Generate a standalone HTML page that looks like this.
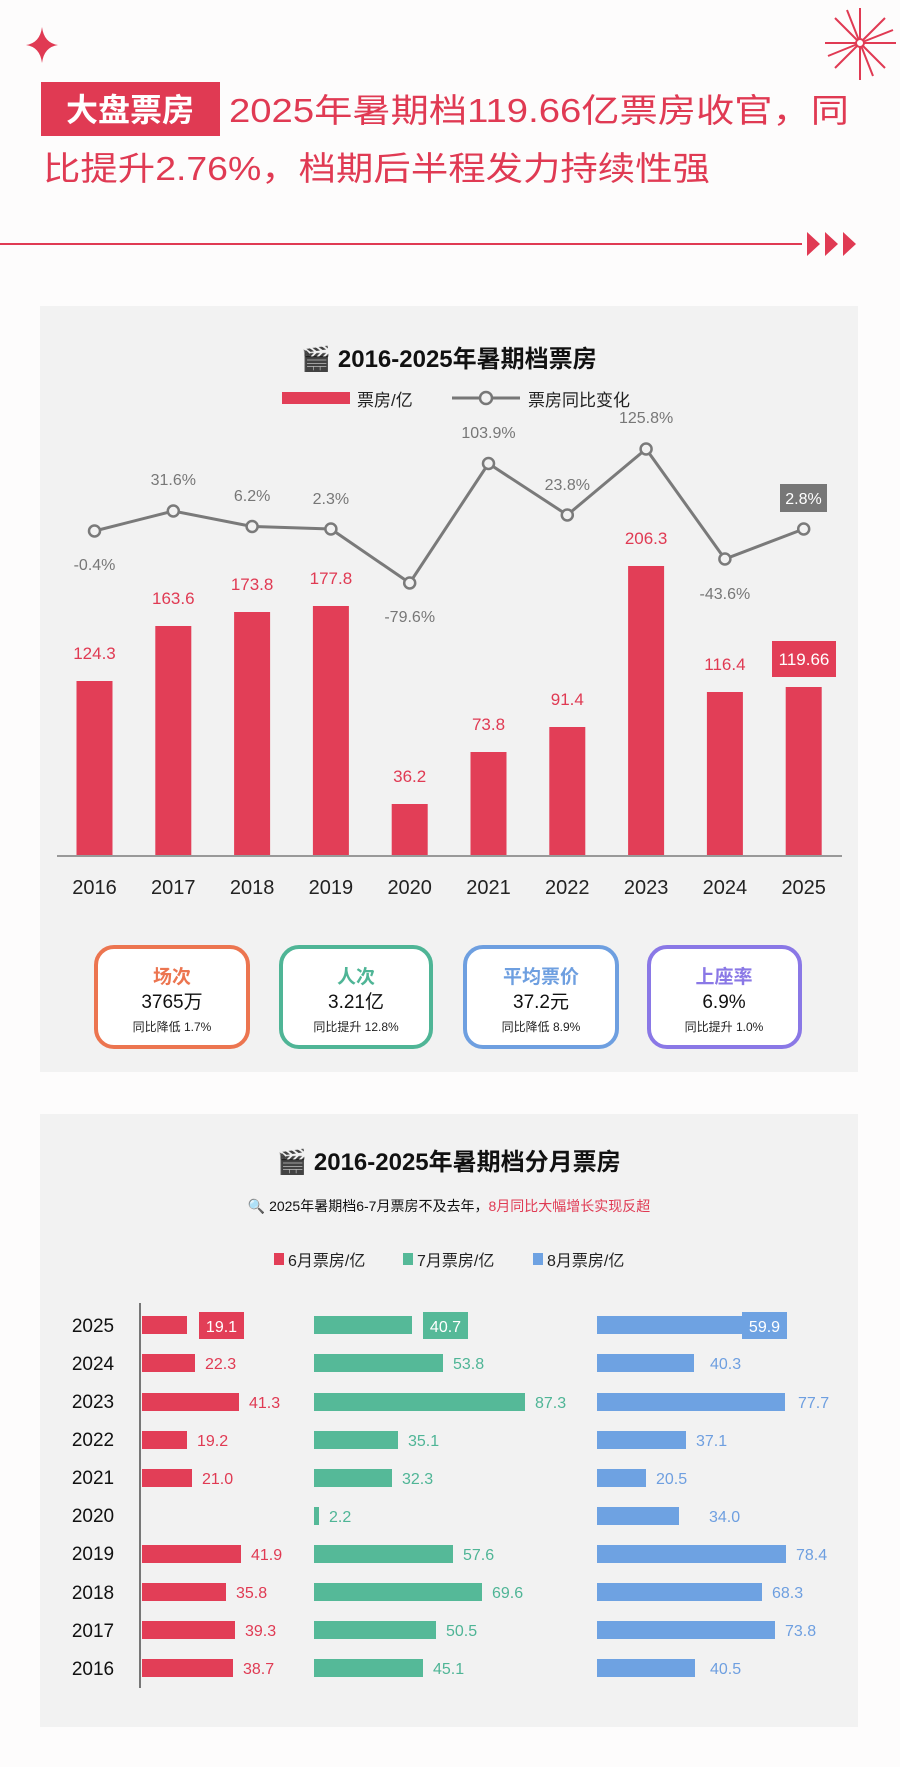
<!DOCTYPE html>
<html><head><meta charset="utf-8"><style>
html,body{margin:0;padding:0;background:#fff}
svg{display:block}
text{font-family:"Liberation Sans","Noto Sans CJK SC",sans-serif}
</style></head><body>
<svg width="900" height="1767" viewBox="0 0 900 1767" xmlns="http://www.w3.org/2000/svg">
<rect width="900" height="1767" fill="#fdfcfc"/>
<!-- star -->
<path d="M42 27 Q44 43 58 45 Q44 47 42 63 Q40 47 26 45 Q40 43 42 27Z" fill="#e03a53"/>
<!-- fireworks -->
<g stroke="#e03a53" stroke-width="2" fill="none">
<line x1="860" y1="43" x2="860" y2="8"/><line x1="860" y1="43" x2="860" y2="80"/>
<line x1="860" y1="43" x2="825" y2="43"/><line x1="860" y1="43" x2="896" y2="43"/>
<line x1="860" y1="43" x2="835" y2="18"/><line x1="860" y1="43" x2="885" y2="18"/>
<line x1="860" y1="43" x2="835" y2="68"/><line x1="860" y1="43" x2="885" y2="68"/>
<line x1="860" y1="43" x2="847" y2="10"/><line x1="860" y1="43" x2="873" y2="76"/>
<line x1="860" y1="43" x2="828" y2="56"/><line x1="860" y1="43" x2="893" y2="30"/>
</g>
<circle cx="860" cy="43" r="4" fill="#fff" stroke="#e03a53" stroke-width="2"/>
<!-- header -->
<rect x="41" y="82" width="179" height="54" fill="#e03a53"/>
<text x="130" y="121" text-anchor="middle" font-size="32" fill="#fff" font-weight="bold">大盘票房</text>
<text x="229" y="122" font-size="33" fill="#e03a53" textLength="620" lengthAdjust="spacingAndGlyphs">2025年暑期档119.66亿票房收官，同</text>
<text x="43" y="180" font-size="33" fill="#e03a53" textLength="667" lengthAdjust="spacingAndGlyphs">比提升2.76%，档期后半程发力持续性强</text>
<line x1="0" y1="244" x2="802" y2="244" stroke="#e03a53" stroke-width="2"/>
<path d="M807 232 L820 244 L807 256Z M825 232 L838 244 L825 256Z M843 232 L856 244 L843 256Z" fill="#e03a53"/>

<!-- panel 1 -->
<rect x="40" y="306" width="818" height="766" fill="#f2f2f2"/>
<text x="449" y="367" text-anchor="middle" font-size="24" font-weight="bold" fill="#111">🎬 2016-2025年暑期档票房</text>
<rect x="282" y="392" width="68" height="12" fill="#e23e57"/>
<text x="357" y="406" font-size="17" fill="#222">票房/亿</text>
<line x1="452" y1="398" x2="520" y2="398" stroke="#777" stroke-width="3"/>
<circle cx="486" cy="398" r="6" fill="#f2f2f2" stroke="#777" stroke-width="2.5"/>
<text x="528" y="406" font-size="17" fill="#222">票房同比变化</text>

<line x1="57" y1="856" x2="842" y2="856" stroke="#999" stroke-width="2"/>
<g fill="#e23e57">
<rect x="76.5" y="681" width="36" height="174"/>
<rect x="155.3" y="626" width="36" height="229"/>
<rect x="234.1" y="612" width="36" height="243"/>
<rect x="312.9" y="606" width="36" height="249"/>
<rect x="391.7" y="804" width="36" height="51"/>
<rect x="470.5" y="752" width="36" height="103"/>
<rect x="549.3" y="727" width="36" height="128"/>
<rect x="628.1" y="566" width="36" height="289"/>
<rect x="706.9" y="692" width="36" height="163"/>
<rect x="785.7" y="687" width="36" height="168"/>
</g>
<g font-size="17" fill="#e03a53" text-anchor="middle">
<text x="94.5" y="659">124.3</text>
<text x="173.3" y="604">163.6</text>
<text x="252.1" y="590">173.8</text>
<text x="330.9" y="584">177.8</text>
<text x="409.7" y="782">36.2</text>
<text x="488.5" y="730">73.8</text>
<text x="567.3" y="705">91.4</text>
<text x="646.1" y="544">206.3</text>
<text x="724.9" y="670">116.4</text>
</g>
<rect x="772" y="641" width="64" height="36" fill="#e23e57"/>
<text x="804" y="665" text-anchor="middle" font-size="17" fill="#fff">119.66</text>

<polyline points="94.5,531 173.3,511 252.1,526.5 330.9,529 409.7,583 488.5,463.5 567.3,515 646.1,449 724.9,559 803.7,529" fill="none" stroke="#7a7a7a" stroke-width="3"/>
<g fill="#f2f2f2" stroke="#7a7a7a" stroke-width="2.5">
<circle cx="94.5" cy="531" r="5.5"/><circle cx="173.3" cy="511" r="5.5"/><circle cx="252.1" cy="526.5" r="5.5"/><circle cx="330.9" cy="529" r="5.5"/><circle cx="409.7" cy="583" r="5.5"/><circle cx="488.5" cy="463.5" r="5.5"/><circle cx="567.3" cy="515" r="5.5"/><circle cx="646.1" cy="449" r="5.5"/><circle cx="724.9" cy="559" r="5.5"/><circle cx="803.7" cy="529" r="5.5"/>
</g>
<g font-size="16" fill="#777" text-anchor="middle">
<text x="94.5" y="570">-0.4%</text>
<text x="173.3" y="485">31.6%</text>
<text x="252.1" y="501">6.2%</text>
<text x="330.9" y="504">2.3%</text>
<text x="409.7" y="622">-79.6%</text>
<text x="488.5" y="438">103.9%</text>
<text x="567.3" y="490">23.8%</text>
<text x="646.1" y="423">125.8%</text>
<text x="724.9" y="599">-43.6%</text>
</g>
<rect x="780" y="484" width="47" height="28" fill="#777"/>
<text x="803.5" y="504" text-anchor="middle" font-size="16" fill="#fff">2.8%</text>
<g font-size="20" fill="#222" text-anchor="middle">
<text x="94.5" y="894">2016</text><text x="173.3" y="894">2017</text><text x="252.1" y="894">2018</text><text x="330.9" y="894">2019</text><text x="409.7" y="894">2020</text><text x="488.5" y="894">2021</text><text x="567.3" y="894">2022</text><text x="646.1" y="894">2023</text><text x="724.9" y="894">2024</text><text x="803.7" y="894">2025</text>
</g>

<!-- KPI -->
<g fill="#fff" stroke-width="4">
<rect x="96" y="947" width="152" height="100" rx="18" stroke="#ec7550"/>
<rect x="281" y="947" width="150" height="100" rx="18" stroke="#4fb596"/>
<rect x="465" y="947" width="152" height="100" rx="18" stroke="#6e9fe0"/>
<rect x="649" y="947" width="151" height="100" rx="18" stroke="#8a78e6"/>
</g>
<g text-anchor="middle">
<text x="172" y="983" font-size="19" font-weight="bold" fill="#ec7550">场次</text>
<text x="172" y="1008" font-size="19" fill="#111">3765万</text>
<text x="172" y="1031" font-size="12" fill="#222">同比降低 1.7%</text>
<text x="356" y="983" font-size="19" font-weight="bold" fill="#4fb596">人次</text>
<text x="356" y="1008" font-size="19" fill="#111">3.21亿</text>
<text x="356" y="1031" font-size="12" fill="#222">同比提升 12.8%</text>
<text x="541" y="983" font-size="19" font-weight="bold" fill="#6e9fe0">平均票价</text>
<text x="541" y="1008" font-size="19" fill="#111">37.2元</text>
<text x="541" y="1031" font-size="12" fill="#222">同比降低 8.9%</text>
<text x="724" y="983" font-size="19" font-weight="bold" fill="#8a78e6">上座率</text>
<text x="724" y="1008" font-size="19" fill="#111">6.9%</text>
<text x="724" y="1031" font-size="12" fill="#222">同比提升 1.0%</text>
</g>

<!-- panel 2 -->
<rect x="40" y="1114" width="818" height="613" fill="#f2f2f2"/>
<text x="449" y="1170" text-anchor="middle" font-size="24" font-weight="bold" fill="#111">🎬 2016-2025年暑期档分月票房</text>
<text x="449" y="1211" text-anchor="middle" font-size="14" fill="#111">🔍 2025年暑期档6-7月票房不及去年，<tspan fill="#e03a53">8月同比大幅增长实现反超</tspan></text>
<rect x="274" y="1253" width="10" height="12" fill="#e23e57"/><text x="288" y="1266" font-size="16" fill="#222">6月票房/亿</text>
<rect x="403" y="1253" width="10" height="12" fill="#55b998"/><text x="417" y="1266" font-size="16" fill="#222">7月票房/亿</text>
<rect x="533" y="1253" width="10" height="12" fill="#6ea2e2"/><text x="547" y="1266" font-size="16" fill="#222">8月票房/亿</text>
<line x1="140" y1="1303" x2="140" y2="1688" stroke="#777" stroke-width="2"/>

<g font-size="19" fill="#111" text-anchor="middle">
<text x="93" y="1332">2025</text><text x="93" y="1370">2024</text><text x="93" y="1408">2023</text><text x="93" y="1446">2022</text><text x="93" y="1484">2021</text><text x="93" y="1522">2020</text><text x="93" y="1560">2019</text><text x="93" y="1599">2018</text><text x="93" y="1637">2017</text><text x="93" y="1675">2016</text>
</g>
<g fill="#e23e57">
<rect x="142" y="1316" width="45" height="18"/><rect x="142" y="1354" width="53" height="18"/><rect x="142" y="1393" width="97" height="18"/><rect x="142" y="1431" width="45" height="18"/><rect x="142" y="1469" width="50" height="18"/><rect x="142" y="1545" width="99" height="18"/><rect x="142" y="1583" width="84" height="18"/><rect x="142" y="1621" width="93" height="18"/><rect x="142" y="1659" width="91" height="18"/>
</g>
<g fill="#55b998">
<rect x="314" y="1316" width="98" height="18"/><rect x="314" y="1354" width="129" height="18"/><rect x="314" y="1393" width="211" height="18"/><rect x="314" y="1431" width="84" height="18"/><rect x="314" y="1469" width="78" height="18"/><rect x="314" y="1507" width="5" height="18"/><rect x="314" y="1545" width="139" height="18"/><rect x="314" y="1583" width="168" height="18"/><rect x="314" y="1621" width="122" height="18"/><rect x="314" y="1659" width="109" height="18"/>
</g>
<g fill="#6ea2e2">
<rect x="597" y="1316" width="145" height="18"/><rect x="597" y="1354" width="97" height="18"/><rect x="597" y="1393" width="188" height="18"/><rect x="597" y="1431" width="89" height="18"/><rect x="597" y="1469" width="49" height="18"/><rect x="597" y="1507" width="82" height="18"/><rect x="597" y="1545" width="189" height="18"/><rect x="597" y="1583" width="165" height="18"/><rect x="597" y="1621" width="178" height="18"/><rect x="597" y="1659" width="98" height="18"/>
</g>
<rect x="199" y="1312" width="45" height="27" fill="#e23e57"/><text x="221.5" y="1332" text-anchor="middle" font-size="16" fill="#fff">19.1</text>
<rect x="423" y="1312" width="45" height="27" fill="#55b998"/><text x="445.5" y="1332" text-anchor="middle" font-size="16" fill="#fff">40.7</text>
<rect x="742" y="1312" width="45" height="27" fill="#6ea2e2"/><text x="764.5" y="1332" text-anchor="middle" font-size="16" fill="#fff">59.9</text>
<g font-size="16" fill="#e03a53">
<text x="205" y="1369">22.3</text><text x="249" y="1408">41.3</text><text x="197" y="1446">19.2</text><text x="202" y="1484">21.0</text><text x="251" y="1560">41.9</text><text x="236" y="1598">35.8</text><text x="245" y="1636">39.3</text><text x="243" y="1674">38.7</text>
</g>
<g font-size="16" fill="#4fb596">
<text x="453" y="1369">53.8</text><text x="535" y="1408">87.3</text><text x="408" y="1446">35.1</text><text x="402" y="1484">32.3</text><text x="329" y="1522">2.2</text><text x="463" y="1560">57.6</text><text x="492" y="1598">69.6</text><text x="446" y="1636">50.5</text><text x="433" y="1674">45.1</text>
</g>
<g font-size="16" fill="#6e9fe0">
<text x="710" y="1369">40.3</text><text x="798" y="1408">77.7</text><text x="696" y="1446">37.1</text><text x="656" y="1484">20.5</text><text x="709" y="1522">34.0</text><text x="796" y="1560">78.4</text><text x="772" y="1598">68.3</text><text x="785" y="1636">73.8</text><text x="710" y="1674">40.5</text>
</g>
</svg>
</body></html>
